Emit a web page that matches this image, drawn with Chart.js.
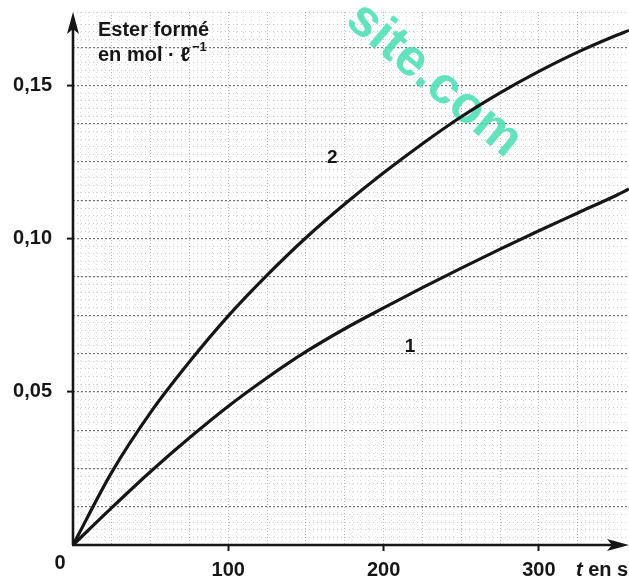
<!DOCTYPE html>
<html><head><meta charset="utf-8">
<script src="https://cdn.jsdelivr.net/npm/chart.js@4.4.0/dist/chart.umd.min.js"></script>
<style>html,body{margin:0;padding:0;background:#fff;} #wrap{width:629px;height:580px;}</style>
</head><body><div id="wrap"><canvas id="c" width="629" height="580"></canvas></div>
<script>
// ---- data ----
const times  = [0, 25, 50, 75, 100, 125, 150, 175, 200, 225, 250, 275, 300, 325, 350, 358];
const curve1 = [0, 0.0122, 0.024, 0.035, 0.0453, 0.0546, 0.0631, 0.0706, 0.0774, 0.084, 0.0904, 0.0966, 0.1026, 0.1084, 0.1142, 0.1162];
const curve2 = [0, 0.0238, 0.0433, 0.0598, 0.0748, 0.0881, 0.1003, 0.1113, 0.1215, 0.131, 0.1398, 0.1476, 0.1546, 0.1609, 0.1664, 0.168];
const xTickLabels = [100, 200, 300];
const yTickLabels = [0.05, 0.10, 0.15];
const curveNames = ['1', '2'];
const yTitle = ['Ester formé', 'en mol \u00B7 \u2113'];
const yTitleSup = '\u22121';
const xTitleVar = 't';
const xTitleRest = ' en s';
const watermark = 'site.com';

const X_MAX = 358, Y_MAX = 0.174;
const FONT = '"Liberation Sans", Arial, sans-serif';
const INK = '#161616';
const near = (a, b) => Math.abs(a - b) < 1e-6;
const isMult = (v, s) => Math.abs(v / s - Math.round(v / s)) < 1e-6;
const fmt = v => v.toFixed(2).replace('.', ',');

// label anchor points in data units
const curveLabelPos = [{x: 217, y: 0.0647}, {x: 167, y: 0.1265}];

const deco = {
  id: 'deco',
  beforeDatasetsDraw(chart) {
    const c = chart.ctx;
    c.save();
    c.translate(434, 80);
    c.rotate(40 * Math.PI / 180);
    c.font = 'bold 52px ' + FONT;
    c.fillStyle = 'rgba(70,222,178,0.85)';
    c.textAlign = 'center';
    c.textBaseline = 'middle';
    c.fillText(watermark, 0, 0);
    c.restore();
  },
  afterDatasetsDraw(chart) {
    const c = chart.ctx, a = chart.chartArea;
    const xs = chart.scales.x, ys = chart.scales.y;
    c.save();
    c.strokeStyle = INK; c.fillStyle = INK;
    c.lineWidth = 2.6;
    c.beginPath();
    c.moveTo(a.left, a.bottom); c.lineTo(a.left, a.top + 8);
    c.moveTo(a.left - 1, a.bottom); c.lineTo(a.right - 8, a.bottom);
    c.stroke();
    // arrowheads
    c.beginPath();
    c.moveTo(a.left, a.top); c.lineTo(a.left - 6, a.top + 22); c.lineTo(a.left, a.top + 17); c.lineTo(a.left + 6, a.top + 22); c.closePath(); c.fill();
    c.beginPath();
    c.moveTo(a.right, a.bottom); c.lineTo(a.right - 22, a.bottom - 6); c.lineTo(a.right - 17, a.bottom); c.lineTo(a.right - 22, a.bottom + 6); c.closePath(); c.fill();

    // origin label
    c.font = 'bold 20px ' + FONT;
    c.textAlign = 'center'; c.textBaseline = 'alphabetic';
    c.fillText('0', a.left - 13, a.bottom + 24);

    // y title
    c.textAlign = 'left';
    c.font = 'bold 20px ' + FONT;
    c.fillText(yTitle[0], 98, 36);
    c.fillText(yTitle[1], 98, 61);
    const w = c.measureText(yTitle[1]).width;
    c.font = 'bold 13px ' + FONT;
    c.fillText(yTitleSup, 98 + w + 2, 51);

    // x title
    c.font = 'italic bold 20px ' + FONT;
    c.fillText(xTitleVar, 576, 576);
    const tw = c.measureText(xTitleVar).width;
    c.font = 'bold 20px ' + FONT;
    c.fillText(xTitleRest, 576 + tw, 576);

    // curve labels
    c.textAlign = 'center'; c.textBaseline = 'middle';
    curveLabelPos.forEach((p, i) => {
      c.font = 'bold 19px ' + FONT;
      c.fillText(curveNames[i], xs.getPixelForValue(p.x), ys.getPixelForValue(p.y));
    });
    c.restore();
  }
};

const mk = arr => times.map((t, i) => ({x: t, y: arr[i]}));

new Chart(document.getElementById('c'), {
  type: 'line',
  data: {
    datasets: [
      {label: curveNames[0], data: mk(curve1), borderColor: INK, borderWidth: 3.2, pointRadius: 0, cubicInterpolationMode: 'monotone', fill: false},
      {label: curveNames[1], data: mk(curve2), borderColor: INK, borderWidth: 3.2, pointRadius: 0, cubicInterpolationMode: 'monotone', fill: false}
    ]
  },
  options: {
    responsive: false, animation: false,
    layout: {padding: {top: 0, right: 0, left: 0, bottom: 0}},
    plugins: {legend: {display: false}, tooltip: {enabled: false}},
    scales: {
      x: {
        type: 'linear', min: 0, max: X_MAX,
        afterFit(s) { s.height = 35; s.paddingLeft = 0; s.paddingRight = 0; },
        ticks: {stepSize: 25, autoSkip: false, maxRotation: 0, padding: 7, color: INK,
          font: {family: FONT, size: 20, weight: 'bold'},
          callback: v => xTickLabels.some(t => near(t, v)) ? String(v) : ''},
        grid: {color: c => near(c.tick.value, 0) ? 'rgba(0,0,0,0)' : 'rgba(0,0,0,0.28)', lineWidth: 1, tickLength: 6,
          tickColor: c => xTickLabels.some(t => near(t, c.tick.value)) ? INK : 'rgba(0,0,0,0)', tickWidth: 2},
        border: {display: false, dash: [1, 2]}
      },
      y: {
        type: 'linear', min: 0, max: Y_MAX,
        afterFit(s) { s.width = 73; s.paddingTop = 12; s.paddingBottom = 0; },
        ticks: {stepSize: 0.0125, autoSkip: false, padding: 15, color: INK,
          font: {family: FONT, size: 20, weight: 'bold'},
          callback: v => yTickLabels.some(t => near(t, v)) ? fmt(v) : ''},
        grid: {color: c => near(c.tick.value, 0) || !isMult(c.tick.value, 0.0125) ? 'rgba(0,0,0,0)' : 'rgba(0,0,0,0.55)', lineWidth: 1.2, tickLength: 6,
          tickColor: c => yTickLabels.some(t => near(t, c.tick.value)) ? INK : 'rgba(0,0,0,0)', tickWidth: 2},
        border: {display: false, dash: [2, 2]}
      },
      xMinor: {
        type: 'linear', position: 'top', min: 0, max: X_MAX,
        afterFit(s) { s.height = 0; s.paddingLeft = 0; s.paddingRight = 0; },
        ticks: {display: false, stepSize: 5, autoSkip: false, padding: 0},
        grid: {color: c => isMult(c.tick.value, 25) ? 'rgba(0,0,0,0)' : 'rgba(0,0,0,0.13)', drawTicks: false, lineWidth: 1},
        border: {display: false, dash: [1, 3]}
      },
      yMinor: {
        type: 'linear', position: 'right', min: 0, max: Y_MAX,
        afterFit(s) { s.width = 0; s.paddingTop = 0; s.paddingBottom = 0; },
        ticks: {display: false, stepSize: 0.0025, autoSkip: false, padding: 0},
        grid: {color: c => isMult(c.tick.value, 0.0125) ? 'rgba(0,0,0,0)' : 'rgba(0,0,0,0.2)', drawTicks: false, lineWidth: 1},
        border: {display: false, dash: [1, 3]}
      }
    }
  },
  plugins: [deco]
});
</script>
</body></html>
